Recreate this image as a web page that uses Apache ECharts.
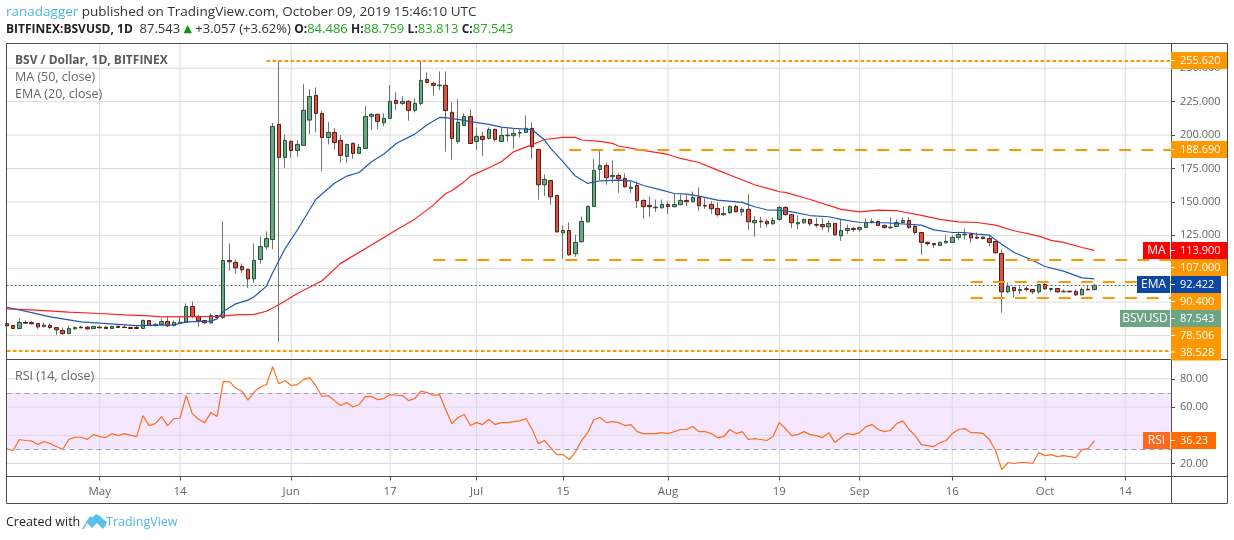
<!DOCTYPE html>
<html><head><meta charset="utf-8">
<style>html,body{margin:0;padding:0;background:#fff}#c{width:1234px;height:540px}</style>
<script src="https://cdn.jsdelivr.net/npm/echarts@6/dist/echarts.min.js"></script>
</head><body><div id="c"></div>
<script>
// One entry per trading day, index 0 = 16 Apr 2019
const opens=[59.0,57.5,55.3,59.8,59.8,59,56.8,57.5,56,53.8,
51.5,55,56.3,56.3,55.3,56.3,56.3,55.3,57,56.3,
56,56,55.3,61.3,57.5,58.3,60.5,57.5,59.3,59.8,
71.7,64.2,61.3,59.5,65,63.5,106.2,104.7,101.7,99.4,
92.4,106.9,116.4,121.9,208,183.3,195.3,188.5,192.3,211.2,
229.7,216.2,198.2,202,196,184,193.8,186.3,190,214,
215.5,209.2,212.5,226,223.7,225.2,218.5,223.7,241.6,238.6,
236.9,237.2,217,195.2,207.2,213.9,195.2,199,197.5,204.2,
195.2,199.5,199.5,201.5,202,205,189.2,162.8,166,154.8,
126.9,128.6,111.2,120.2,135.1,146.6,174.3,177.3,168.8,169.8,
167.6,160.1,162.3,151.1,147.4,145.6,145.6,148.1,146.4,147.9,
151.1,150.1,153.3,147.4,148.1,145.1,140.4,141.9,146.6,142.6,
144.4,134.4,135.6,135.4,133.6,136.9,145.9,140.4,133.6,134.4,
136.9,133,133.1,131.4,133.9,124.6,128.6,130.1,129.4,130.9,
134.6,135.4,132.4,130.6,131.6,134.6,136.1,131.6,127.1,119.7,
118.9,117.4,119.4,119.7,123.4,125.4,125.6,123.6,123.6,122.6,
120.4,111.4,82.7,86,83.7,85,84.5,82.7,88.2,84.5,
85.2,82.7,83.2,83,80.5,84.7,84.486];
const closes=[57.3,55.3,59.8,59.3,58.8,56.5,57.8,56,54.3,51.5,
55.3,56,55.8,55,56.8,55.8,55.3,56.8,56,56,
55.3,55.3,61.3,57.5,58.5,60.5,57.3,59.8,60,71.7,
64.2,61,59.5,65,63.5,106.2,105.2,100.7,99.2,92.4,
106.2,116.6,122.6,206.5,183.3,196,188.5,193,218.5,228.9,
216.2,198.2,202,194.5,184.8,193,186.3,190.8,214,215.5,
210.2,212.5,225.2,223.7,225.2,218.5,223.7,240.9,239.4,237.2,
237.4,218.4,197.5,209.5,213.9,193.7,199,196.7,204.2,196.7,
199.7,200,201.2,202,205,191.2,162.8,166.8,153.8,127.6,
128.6,110.4,119.7,135.4,146.6,173.6,177.3,168.1,169.8,167.3,
161.3,161,150.9,146.4,146.4,146.1,148.1,146.6,148.1,151.1,
150.1,153.3,147.1,146.9,144.9,140.4,141.4,146.6,142.6,144.4,
135.1,136.1,135.1,133.6,136.1,145.9,140.4,134.4,134.6,136.9,
133.6,132.6,131.4,133.9,125.4,128.6,130.1,129.4,130.9,134.6,
135.4,132.4,130.9,131.1,134.6,136.1,130.9,127.1,119.7,118.7,
117.9,119.7,120.4,123.4,125.6,125.9,123.1,122.9,122.6,119.7,
111.9,82.7,86.7,83.5,84.5,84.5,82.7,88.2,85,85.2,
82.7,83.2,82.7,80.5,84.5,84.2,87.543];
const lows=[57,55,55.3,58.8,58.5,55,56,55,50.5,50.5,
51,54.3,55.8,54.3,55.2,55.8,55,55,55.8,55.8,
55,55,55,57,56.8,58,56.5,57,58.8,59.5,
63,56.5,59,59,63,62.5,98.4,96.2,96.9,85.7,
89.5,103.7,114.6,114.6,45.3,175.5,183,183.8,192,200.7,
202,173,193,189.3,179.3,179.3,182.3,186,189.5,203.7,
204.5,206.7,212,218.7,222.5,210.7,217,222,238.5,229.4,
233.6,187.5,181.5,193.5,207,193.5,189,184.5,196.5,195.2,
195,195,189.7,198.2,201.5,182,151.6,154.6,147.9,127,
107.4,109.7,108.9,119.5,134.4,146.4,166.3,162.8,164.3,156.8,
160.8,156.8,145.6,137.4,138.9,142.6,145,141.1,146,147.5,
146.9,149.9,143.4,144.9,141.1,138.9,139.6,141.1,142.2,139.6,
129.1,123.9,130.6,131.1,133,136.2,140,130.6,129.6,133.6,
132.1,130.9,129.1,127.1,124.6,120.9,126.1,127.6,127.6,130.5,
133.9,132.1,129.9,130.1,131.2,133.9,129.9,125.4,110.4,117.2,
115.7,117,118.9,119.2,121.2,121.9,119.4,122.4,122,116.9,
111.5,67,81.8,78.5,81,82.7,81,81.2,84.6,82.7,
82,82.5,82.5,79.7,80.2,84,83.813];
const highs=[59.3,57.8,63,61.3,60.5,59.3,59.8,59,56,56,
57.5,57,57.5,57,56.9,57.5,57,57.5,57.3,57.5,
56,57.5,62,61.5,59,62.8,64.3,61.3,63.8,74,
75.5,65.7,61.5,66.5,65.5,135.4,118.9,106.9,103.9,100.2,
118.9,124.1,127.9,209,255.6,200.5,196,196.3,238.2,234.4,
235.7,218,209.7,205.2,200,193.5,194.5,193.3,221.7,216.2,
216,216.2,237.4,232,229.2,226,227.4,255.6,246.9,240.1,
247.6,247.6,224.4,226.7,216.2,219.2,205.7,202.5,205.7,205,
205.7,205,205,204.2,214.7,209.6,190,170.5,166.5,155.3,
132.4,134.6,125.4,139.1,147.4,182,189.3,179.5,181,171.3,
171.3,165.3,165.3,152,154.1,151.8,151.8,150.4,156.3,155.6,
155.1,157.8,160.8,152.6,150.4,149.6,146.6,147.4,148.1,145.9,
155.8,139.4,138.9,136.9,138.4,146.9,146.6,141,139.9,137.4,
137.4,137.9,137.9,136.1,133.9,136.9,133,131.4,131.4,137.6,
137.6,136.1,133,138.4,136.9,138.4,138.4,133.1,127.4,120.4,
119.2,120.4,124.9,124.9,127.9,130.1,127.1,127.1,124.4,124.4,
120.6,114.4,89.7,86.3,86.7,86.5,84.8,88.6,90.5,85.4,
85.4,84.5,83.4,84.5,86,87.5,88.759];
const rsiValues=[30.4,29.2,37,36.3,36,33.4,35.6,34.1,32,29.9,
37,38.6,38.6,37,40.5,39.1,38.4,41.2,39.8,41.2,
40,39.1,54,46.9,48.3,53.3,46.9,51.9,52.1,68.2,
55.4,51.4,49,56.1,53.3,78.1,78.1,73.6,71.3,64.9,
70.8,74.3,76,88.7,76.5,78.8,75.3,76,79.5,80.9,
75,67.5,68.2,64.6,61.1,63.2,60.1,61.8,67.5,67.5,
65.3,66.1,68.9,68.4,68.2,64.6,66.1,71.3,70.3,68.4,
68.9,58.3,48.3,52.6,54.7,46.9,49,47.6,51.2,47.6,
49,49,49.7,50.2,51.9,44.1,34.1,36.3,31.3,26.3,
26.3,22.8,28.2,36.3,41.9,51.2,52.6,49,49.7,49,
46.9,47.6,42.6,41.2,41.2,41.2,41.9,41.2,42.6,44.1,
44.1,46.2,42.6,42.6,41.2,38.4,39.1,44.1,41.2,42.6,
37,37.7,37,36.3,39.3,49,44.8,39.8,40.5,42.6,
40.5,39.8,38.4,41.9,34.8,38.4,41.2,40.5,41.9,46.2,
47.6,44.1,42.6,43.4,48.3,50.2,44.1,39.8,33.4,32.7,
32,34.8,36.3,41.2,44.1,44.8,41.9,41.9,41.2,37,
29.2,15.7,20.7,20,20.7,20.7,20,27.8,25.6,26.3,
24.9,25.6,24.9,24.2,29.9,30.6,36.23];
// Moving averages at their visible bends
const emaDays=[0,4,7,12,15,21,27,29,33,34,35,36,37,39,40,41,42,43,44,45,47,50,53,55,57,59,61,63,66,68,70,71,74,75,78,80,82,85,87,88,90,92,94,96,99,101,103,106,108,110,112,115,119,121,123,125,127,130,133,135,138,142,148,150,153,155,157,159,161,163,166,168,171,174,176];
const emaValues=[71.2,67.2,64,60.3,59.3,57.5,58,60.3,60.8,62.5,68,71,73.7,76.5,79,83,87,97,106,115,129,152,164,169.3,172,180,185.8,193.7,200.7,207.7,213.2,213,211,210,208,206,205,204,196.3,190,180,169.3,163.8,165.8,166.3,165.8,162.3,158.8,156.3,155.8,154.3,151.3,149.6,146.4,144.1,143.9,142.6,139.8,138.9,136.9,134.6,134.4,132.6,129.1,127.1,127.1,125.9,125.1,118.4,112.2,106.4,101.7,98.2,93.2,92.4];
const maDays=[0,4,6,10,15,19,23,25,34,37,40,42,44,47,51,54,59,63,66,69,71,72,74,75,78,80,82,83,85,87,90,92,93,96,98,99,102,107,109,112,115,118,121,124,125,126,129,130,135,138,141,144,148,151,154,157,160,163,167,169,171,174,176];
const maValues=[70,69.2,68.7,67.5,66.5,65.5,64.8,64,64.3,65.5,65.8,68.2,73,81.5,91,104,117.8,128.9,137.1,147.6,156.3,158.3,165,169.3,175.5,180,187.5,189.3,192.7,196.7,198.3,198.3,196.3,195.3,193.8,191.8,189.3,185.5,182.5,179.5,173.8,168.3,162.8,159,157.6,157.1,153.1,151.8,144.4,142.6,143.9,143.4,139.9,136.9,135.1,134.6,132.6,128.4,124.4,121.2,119.7,115.9,113.7];
// Tick labels
const xTickDays=[15,28,46,62,76,90,107,125,138,153,168,181];
const xTickLabels=['May','14','Jun','17','Jul','15','Aug','19','Sep','16','Oct','14'];
const priceTicks=[50,75,100,125,150,175,200,225,250];
const rsiGridTicks=[20,40,60,80];
const rsiLabelTicks=[20,60,80];
const rsiBand=[30,70];
// Horizontal levels: price and the day each one starts on
const dottedLevels=[255.62,38.528];
const dottedStart=[42,0];
const dashedLevels=[188.69,107,90.4,78.506];
const dashedStart=[91,69,156,156];
const lastPrice=87.543;
// Text
const priceTagText=['255.620','188.690','113.900','107.000','92.422','90.400','87.543','78.506','38.528'];
const sideTagText=['MA','EMA','BSVUSD','RSI'];
const rsiTagText='36.23';

const FONT='"Open Sans"';
const ORANGE='#ff9800',UP='#6ba583',DOWN='#d75442',UPB='#225437',DOWNB='#5b1a13',WICK='#737375';
const GRID='#dcdcdc',FRAME='#4d4d4d',TXT='#666666';
const XMIN=-0.08,XMAX=188.4;
const PMIN=32.1,PMAX=268.5,RMIN=10.78,RMAX=93.76;

const idx=opens.map((_,i)=>i);
const wickData=idx.map(i=>[i,opens[i],closes[i],lows[i],highs[i]]);
const bodyData=idx.map(i=>[i,opens[i],closes[i],Math.min(opens[i],closes[i]),Math.max(opens[i],closes[i])]);
const zip=(a,b)=>a.map((d,i)=>[d,b[i]]);
const levelSeg=(v,s,style)=>[{coord:[s,v],lineStyle:style},{coord:[XMAX,v]}];

const xAxisBase=(gi,showLabels)=>({type:'value',gridIndex:gi,min:XMIN,max:XMAX,
  axisLine:{show:false,onZero:false},
  axisTick:{show:showLabels,length:4,inside:false,lineStyle:{color:FRAME},customValues:xTickDays},
  axisLabel:{show:showLabels,customValues:xTickDays,margin:9,color:TXT,fontFamily:FONT,fontSize:11.5,
    showMinLabel:true,showMaxLabel:true,formatter:v=>xTickLabels[xTickDays.indexOf(v)]||''},
  splitLine:{show:false}});
const yAxisBase=(gi,min,max,ticks,dec)=>({type:'value',gridIndex:gi,position:'right',min,max,
  axisLine:{show:false,onZero:false},
  axisTick:{show:true,length:4,lineStyle:{color:FRAME},customValues:ticks},
  axisLabel:{customValues:ticks,margin:9,color:TXT,fontFamily:FONT,fontSize:11,padding:[3,0,0,0],formatter:v=>v.toFixed(dec)},
  splitLine:{show:false}});
// grid lines for one pane, each drawn as its own two-point line series from the tick arrays
const gridSeries=(gi,yMin,yMax,yTicks)=>[
  ...xTickDays.map(d=>[[d,yMin],[d,yMax]]),
  ...yTicks.map(v=>[[XMIN,v],[XMAX,v]])
].map(seg=>({type:'line',xAxisIndex:gi,yAxisIndex:gi,data:seg,symbol:'none',silent:true,z:1,clip:false,
   lineStyle:{color:GRID,width:1}}));

// Annotation layout
const G=[];
const txt=(x,y,text,style)=>G.push({type:'text',z:100,x,y,silent:true,style:Object.assign({text,font:'12.5px '+FONT,fill:TXT,textVerticalAlign:'middle'},style||{})});
const rect=(x,y,w,h,fill)=>G.push({type:'rect',z:99,silent:true,shape:{x,y,width:w,height:h},style:{fill}});
const line=(x1,y1,x2,y2,c)=>G.push({type:'line',z:98,silent:true,shape:{x1,y1,x2,y2},style:{stroke:c||FRAME,lineWidth:1}});
// frame
line(6.5,43.5,1227.5,43.5);line(6.5,503.5,1227.5,503.5);line(6.5,43.5,6.5,503.5);line(1227.5,43.5,1227.5,503.5);
line(1171.5,43.5,1171.5,503.5);line(6.5,359.5,1227.5,359.5);line(6.5,476.5,1227.5,476.5);
// price tags: centre y, right edge, colour
const tagRows=[[60.5,1227,ORANGE],[149.5,1227,ORANGE],[250.5,1227,'#ff0000'],[267.5,1227,ORANGE],[284.5,1221,'#0d47a1'],[301.5,1221,ORANGE],[318.5,1221,UP],[335.5,1221,ORANGE],[352,1221,ORANGE]];
tagRows.forEach((r,i)=>{rect(1171,r[0]-8.5,r[1]-1171,17,r[2]);
  G.push({type:'rect',z:100,silent:true,shape:{x:1171,y:r[0]-0.5,width:4,height:1},style:{fill:'#ffffff'}});
  txt(1180,r[0]+0.5,priceTagText[i],{fill:'#ffffff',font:'11px '+FONT});});
const sideRows=[[1143,250.5,'#ff0000'],[1137,284.5,'#0d47a1'],[1120,318.5,UP],[1143,440.5,'#ff6a1f']];
sideRows.forEach((r,i)=>{rect(r[0],r[1]-8.5,1170-r[0],17,r[2]);
  txt((r[0]+1170)/2,r[1]+0.5,sideTagText[i],{fill:'#ffffff',textAlign:'center',font:'12px '+FONT});});
rect(1171,432,45,17,'#ff6d00');
G.push({type:'rect',z:100,silent:true,shape:{x:1171,y:440,width:4,height:1},style:{fill:'#ffffff'}});
txt(1180,441,rsiTagText,{fill:'#ffffff',font:'11px '+FONT});
// pane legends
txt(15,60.5,'BSV / Dollar, 1D, BITFINEX',{font:'bold 12px '+FONT,fill:'#595959'});
txt(15,77.5,'MA (50, close)',{fill:'#666666'});
txt(15,94.5,'EMA (20, close)',{fill:'#666666'});
txt(15,376.5,'RSI (14, close)',{fill:'#666666'});
// header
G.push({type:'text',z:100,x:6,y:12.5,silent:true,style:{textVerticalAlign:'middle',
  text:'{a|ranadagger}{b| published on TradingView.com, October 09, 2019 15:46:10 UTC}',
  rich:{a:{font:'13.5px '+FONT,fill:'#4db6e8'},b:{font:'13.5px '+FONT,fill:'#333'}}}});
G.push({type:'text',z:100,x:6,y:29.5,silent:true,style:{textVerticalAlign:'middle',
  text:'{h|BITFINEX:BSVUSD, 1D}{b|  87.543 }{t|▲}{b| +3.057 (+3.62%) }{h|O:}{g|84.486} {h|H:}{g|88.759} {h|L:}{g|83.813} {h|C:}{g|87.543}',
  rich:{h:{font:'bold 12px '+FONT,fill:'#222'},b:{font:'13px '+FONT,fill:'#333'},g:{font:'13px '+FONT,fill:'#22ab22'},t:{font:'11px "DejaVu Sans"',fill:'#0a9a0a'}}}});
// footer
txt(6,522.5,'Created with',{font:'12.5px '+FONT,fill:'#222'});
G.push({type:'polygon',z:100,silent:true,shape:{points:[[82,529],[88,519],[90,516.5],[93,517],[96,514],[100,516],[104,520],[107,522],[106,525],[103,529],[97,523],[92,528],[87,523],[84,529]]},style:{fill:'#5cc0ec'}});
txt(106,522.5,'TradingView',{font:'12.5px '+FONT,fill:'#4db6e8'});

const option={animation:false,backgroundColor:'#fff',
 grid:[{left:6.5,top:43.5,width:1164.5,height:316,containLabel:false},
       {left:6.5,top:359.5,width:1164.5,height:117,containLabel:false}],
 xAxis:[xAxisBase(0,false),xAxisBase(1,true)],
 yAxis:[yAxisBase(0,PMIN,PMAX,priceTicks,3),yAxisBase(1,RMIN,RMAX,rsiLabelTicks,2)],
 graphic:{elements:G},
 series:[
  ...gridSeries(0,PMIN,PMAX,priceTicks),
  ...gridSeries(1,RMIN,RMAX,rsiGridTicks),
  {type:'candlestick',name:'wick',xAxisIndex:0,yAxisIndex:0,barWidth:1,encode:{x:0,y:[1,2,3,4]},data:wickData,silent:true,z:2,
   itemStyle:{color:WICK,color0:WICK,borderColor:WICK,borderColor0:WICK,borderWidth:1}},
  {type:'candlestick',name:'body',xAxisIndex:0,yAxisIndex:0,barWidth:4,encode:{x:0,y:[1,2,3,4]},data:bodyData,silent:true,z:3,
   itemStyle:{color:UP,color0:DOWN,borderColor:UPB,borderColor0:DOWNB,borderWidth:1},
   markLine:{silent:true,symbol:'none',label:{show:false},z:5,animation:false,data:[
     ...dottedLevels.map((v,i)=>levelSeg(v,dottedStart[i],{color:ORANGE,width:2,type:[3.5,2.5]})),
     ...dashedLevels.map((v,i)=>levelSeg(v,dashedStart[i],{color:ORANGE,width:2,type:[12,10]})),
     levelSeg(lastPrice,XMIN,{color:'#457a5e',width:1,type:[2,2]})
   ]}},
  {type:'line',name:'MA',xAxisIndex:0,yAxisIndex:0,data:zip(maDays,maValues),symbol:'none',silent:true,z:4,lineStyle:{color:'#ff2020',width:1.2}},
  {type:'line',name:'EMA',xAxisIndex:0,yAxisIndex:0,data:zip(emaDays,emaValues),symbol:'none',silent:true,z:4,lineStyle:{color:'#2458b0',width:1.2}},
  {type:'line',name:'RSI',xAxisIndex:1,yAxisIndex:1,data:idx.map(i=>[i,rsiValues[i]]),symbol:'none',silent:true,z:4,lineStyle:{color:'#ff6d1a',width:1.2},
   markArea:{silent:true,itemStyle:{color:'rgba(153,21,255,0.1)'},data:[[{coord:[XMIN,rsiBand[1]]},{coord:[XMAX,rsiBand[0]]}]]},
   markLine:{silent:true,symbol:'none',label:{show:false},animation:false,
     lineStyle:{color:'#a89cae',width:1,type:[5,4]},
     data:rsiBand.map(v=>[{coord:[XMIN,v]},{coord:[XMAX,v]}])}}
 ]};
echarts.init(document.getElementById('c'),null,{renderer:'canvas'}).setOption(option);
</script></body></html>
